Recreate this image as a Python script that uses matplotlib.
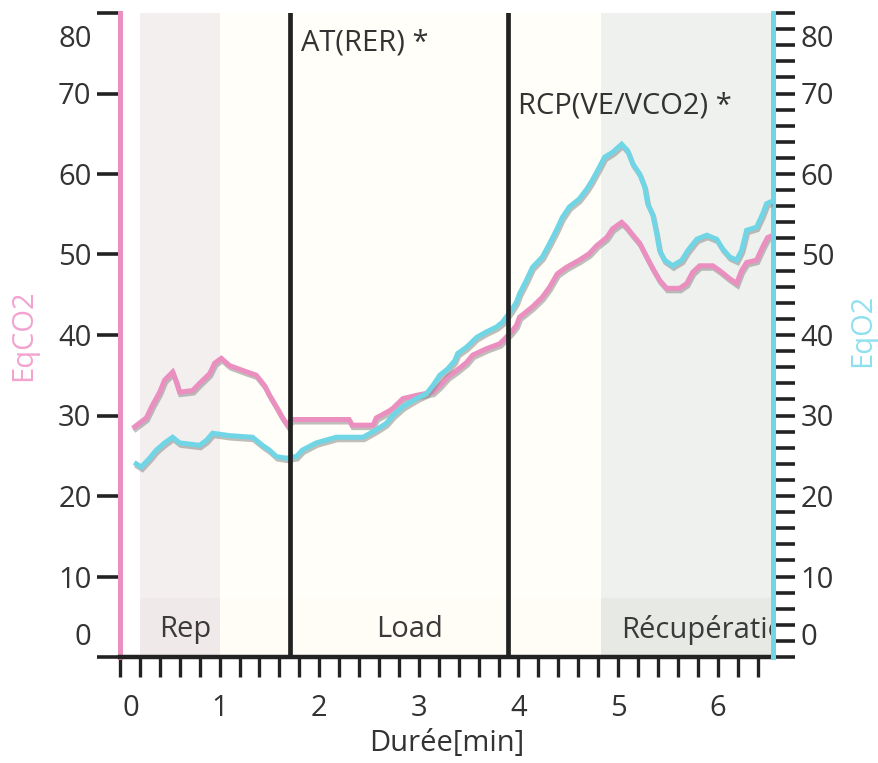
import matplotlib
matplotlib.use("Agg")
import matplotlib.pyplot as plt
import matplotlib.patheffects as pe
from matplotlib.transforms import ScaledTranslation

plt.rcParams['font.family'] = ['Open Sans', 'DejaVu Sans']

# ---- data ----
eqco2_t = [0.147, 0.264, 0.327, 0.398, 0.448, 0.528, 0.565, 0.598, 0.729, 0.799, 0.90, 0.95,
           1.017, 1.10, 1.231, 1.368, 1.452, 1.502, 1.569, 1.633, 1.683, 1.72, 2.30, 2.33, 2.54,
           2.573, 2.707, 2.74, 2.84, 2.975, 3.14, 3.21, 3.29, 3.38, 3.48, 3.54, 3.68, 3.81, 3.86,
           3.93, 3.98, 4.01, 4.14, 4.24, 4.31, 4.39, 4.48, 4.61, 4.71, 4.785, 4.885, 4.945, 5.036,
           5.086, 5.136, 5.217, 5.287, 5.347, 5.417, 5.488, 5.618, 5.689, 5.749, 5.819, 5.95, 6.02,
           6.12, 6.19, 6.24, 6.29, 6.39, 6.45, 6.50, 6.56]
eqco2 = [28.6, 29.7, 31.3, 32.9, 34.4, 35.4, 34.2, 32.9, 33.1, 34.0, 35.2, 36.5,
         37.1, 36.2, 35.6, 35.0, 33.7, 32.5, 31.1, 29.7, 28.8, 29.5, 29.5, 28.8, 28.8,
         29.7, 30.6, 30.9, 32.1, 32.5, 32.9, 33.7, 34.8, 35.6, 36.6, 37.5, 38.3, 38.9, 39.5,
         40.4, 41.2, 42.2, 43.5, 44.7, 45.9, 47.6, 48.4, 49.3, 50.1, 51.1, 52.1, 53.2, 54.0,
         53.4, 52.6, 51.4, 49.7, 48.3, 46.8, 45.8, 45.8, 46.4, 47.8, 48.6, 48.6, 48.0,
         47.0, 46.4, 48.0, 49.0, 49.3, 50.9, 52.1, 52.4]

eqo2_t = [0.164, 0.214, 0.297, 0.364, 0.448, 0.528, 0.598, 0.799, 0.866, 0.93, 1.10, 1.33,
          1.43, 1.50, 1.57, 1.67, 1.77, 1.83, 1.97, 2.17, 2.44, 2.57, 2.67, 2.74, 2.84, 2.975,
          3.075, 3.14, 3.21, 3.29, 3.36, 3.39, 3.48, 3.58, 3.68, 3.78, 3.84, 3.93, 3.98, 4.01,
          4.08, 4.14, 4.24, 4.31, 4.38, 4.44, 4.51, 4.61, 4.69, 4.74, 4.81, 4.865, 4.945, 5.036,
          5.096, 5.146, 5.217, 5.267, 5.297, 5.347, 5.387, 5.417, 5.467, 5.548, 5.64, 5.70, 5.79,
          5.89, 5.99, 6.05, 6.12, 6.19, 6.24, 6.29, 6.39, 6.45, 6.49, 6.56]
eqo2 = [24.0, 23.6, 24.7, 25.7, 26.6, 27.3, 26.6, 26.3, 26.9, 27.8, 27.5, 27.3,
        26.3, 25.7, 24.9, 24.7, 24.9, 25.7, 26.6, 27.3, 27.3, 28.2, 29.0, 30.0, 31.1, 32.1,
        32.7, 33.7, 35.0, 35.8, 36.8, 37.7, 38.5, 39.7, 40.4, 41.0, 41.6, 43.1, 44.1, 45.1,
        46.8, 48.4, 49.7, 51.3, 53.0, 54.6, 55.9, 56.9, 58.2, 59.2, 60.8, 62.1, 62.7, 63.7,
        62.9, 61.3, 60.0, 58.4, 56.3, 55.0, 52.6, 50.5, 49.3, 48.6, 49.3, 50.5, 51.9,
        52.4, 51.9, 50.7, 49.7, 49.3, 50.5, 53.0, 53.4, 55.0, 56.3, 56.7]

phase_names = ["Rep", "Load", "Récupération"]
phase_bounds = [(0.2, 1.0), (1.0, 4.83), (4.83, 7.0)]
phase_label_x = [0.66, 2.91, 5.03]

markers_t = [1.71, 3.89]
markers_txt = ["AT(RER) *", "RCP(VE/VCO2) *"]
markers_txt_y = [76.3, 68.5]

x_ticks = [0, 1, 2, 3, 4, 5, 6]
y_ticks = [0, 10, 20, 30, 40, 50, 60, 70, 80]

# ---- style ----
PINK = '#ea8fbf'
CYAN = '#70d6e6'
DARK = '#222222'
TXT = '#333333'
FS = 21

fig = plt.figure(figsize=(8.79, 7.63), dpi=100)
ax = fig.add_axes([120 / 879, 1 - 657 / 763, 653 / 879, 644 / 763])
ax2 = ax.twinx()

ax.set_xlim(0, 6.555)
ax.set_ylim(0, 80)
ax2.set_ylim(0, 80)

band_cols = ['#f4efef', '#fffef8', '#eff1ee']
strip_cols = ['#f0e9ea', '#fffdf6', '#e7e9e5']
for (a, b), c, sc in zip(phase_bounds, band_cols, strip_cols):
    ax.axvspan(a, b, color=c, lw=0, zorder=0)
    ax.axvspan(a, b, ymin=0, ymax=59 / 644, color=sc, lw=0, zorder=0.5)

for name, xl in zip(phase_names, phase_label_x):
    ha = 'left' if name.startswith('R\u00e9') else 'center'
    ax.text(xl, 3.4, name, ha=ha, va='center', fontsize=FS, color='#3a3a3a',
            clip_on=True, zorder=1)

shadow = [pe.SimpleLineShadow(offset=(0.8, -1.8), shadow_color='#8a8a8a', alpha=0.55),
          pe.Normal()]
ax.plot(eqco2_t, eqco2, color=PINK, lw=3.6, zorder=3, path_effects=shadow,
        solid_joinstyle='miter')
ax2.plot(eqo2_t, eqo2, color=CYAN, lw=3.6, zorder=3, path_effects=shadow,
         solid_joinstyle='miter')

for t, s, yy in zip(markers_t, markers_txt, markers_txt_y):
    ax2.axvline(t, color=DARK, lw=3.4, zorder=5)
    ax2.text(t + 0.11, yy, s, ha='left', va='center', fontsize=FS, color=TXT, zorder=6)

# spines
for a_ in (ax, ax2):
    a_.spines['top'].set_visible(False)
ax.spines['left'].set_color(PINK)
ax.spines['left'].set_linewidth(3.6)
ax.spines['right'].set_visible(False)
ax.spines['bottom'].set_color(DARK)
ax.spines['bottom'].set_linewidth(3.2)
ax2.spines['left'].set_visible(False)
ax2.spines['bottom'].set_visible(False)
ax2.spines['right'].set_color(CYAN)
ax2.spines['right'].set_linewidth(3.6)

# x ticks
ax.set_xticks(x_ticks)
ax.set_xticklabels([str(v) for v in x_ticks])
ax.set_xticks([i * 0.2 for i in range(33) if i % 5], minor=True)
ax.tick_params(axis='x', which='both', direction='out', length=14.5, width=2.4,
               color=DARK, pad=12, labelsize=FS, labelcolor=TXT)

# left y ticks
ax.set_yticks(y_ticks)
ax.set_yticklabels([str(v) for v in y_ticks])
ax.tick_params(axis='y', which='major', direction='out', length=16.5, width=2.6,
               color=DARK, pad=4, labelsize=FS, labelcolor=TXT)

# right y ticks
ax2.set_yticks(y_ticks)
ax2.set_yticklabels([str(v) for v in y_ticks])
ax2.set_yticks([v for v in range(0, 81, 2) if v % 10], minor=True)
ax2.tick_params(axis='y', which='both', direction='out', length=16, width=2.6,
                color=DARK, pad=4, labelsize=FS, labelcolor=TXT)

# edge labels pushed inward like the original chart
def shift(lbl, dx, dy):
    lbl.set_transform(lbl.get_transform() + ScaledTranslation(dx / 100, dy / 100, fig.dpi_scale_trans))

shift(ax.get_xticklabels()[0], 11, 0)
for a_ in (ax, ax2):
    labs = a_.get_yticklabels()
    shift(labs[0], 0, 23)
    shift(labs[-1], 0, -23)

ax.set_xlabel("Durée[min]", fontsize=FS, color=TXT)
ax.xaxis.set_label_coords(0.5, -0.112)
ax.set_ylabel("EqCO2", fontsize=FS, color='#f2a3cf')
ax.yaxis.set_label_coords(-0.125, 0.5)
ax2.set_ylabel("EqO2", fontsize=FS, color='#8fe0ee')
ax2.yaxis.set_label_coords(1.115, 0.508)

fig.savefig("out.png", dpi=100)
